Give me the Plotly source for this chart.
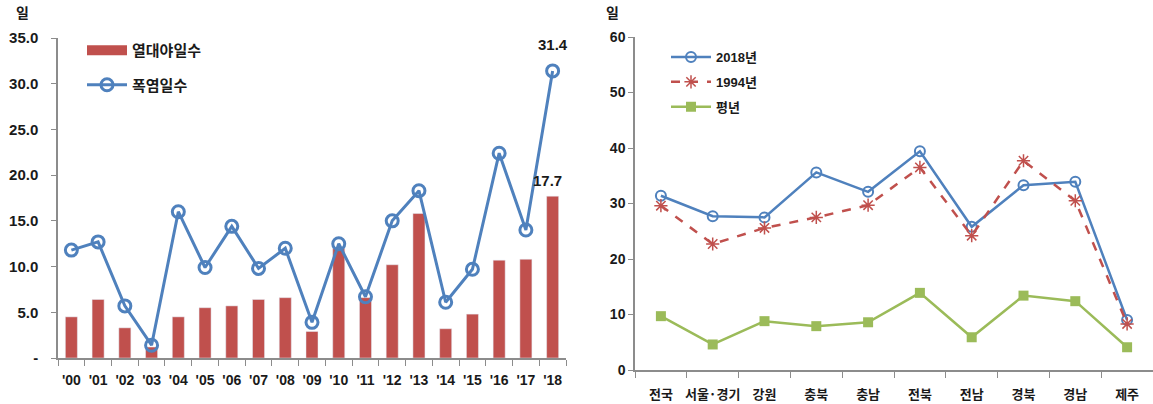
import plotly.graph_objects as go

years = ["'00","'01","'02","'03","'04","'05","'06","'07","'08","'09",
         "'10","'11","'12","'13","'14","'15","'16","'17","'18"]
tropical_nights = [4.5, 6.4, 3.3, 1.2, 4.5, 5.5, 5.7, 6.4, 6.6, 2.9,
                   12.0, 6.6, 10.2, 15.8, 3.2, 4.8, 10.7, 10.8, 17.7]
heatwave_days = [11.8, 12.7, 5.7, 1.4, 16.0, 9.9, 14.4, 9.8, 12.0, 3.9,
                 12.5, 6.7, 15.0, 18.3, 6.1, 9.7, 22.4, 14.0, 31.4]

regions = ["전국", "서울·경기", "강원", "충북", "충남", "전북", "전남", "경북", "경남", "제주"]
y2018 = [31.4, 27.7, 27.5, 35.6, 32.1, 39.4, 25.8, 33.3, 33.9, 9.0]
y1994 = [29.6, 22.7, 25.6, 27.5, 29.7, 36.5, 24.2, 37.7, 30.5, 8.3]
normal = [9.7, 4.6, 8.8, 7.9, 8.6, 13.9, 5.9, 13.4, 12.4, 4.1]

left_yticks = [0, 5, 10, 15, 20, 25, 30, 35]
left_yticklabels = ["-", "5.0", "10.0", "15.0", "20.0", "25.0", "30.0", "35.0"]
right_yticks = [0, 10, 20, 30, 40, 50, 60]

RED = "#C0504D"
BLUE = "#4F81BD"
GREEN = "#9BBB59"
AXIS = "#8C8C8C"
TXT = "#1a1a1a"
FONT = "Liberation Sans, Noto Sans CJK KR"
KFONT = "Noto Sans CJK KR, Liberation Sans"
NARROW = "Liberation Sans Narrow, Liberation Sans, Noto Sans CJK KR"

W, H = 1153, 404
fig = go.Figure()

fig.add_trace(go.Bar(
    x=years, y=tropical_nights, name="열대야일수", marker_color=RED,
    xaxis="x", yaxis="y", showlegend=False,
))
# legend entry for the bars (wide swatch like the reference)
fig.add_trace(go.Scatter(
    x=[years[0]], y=[None], name="열대야일수", mode="lines",
    line=dict(color=RED, width=12),
    xaxis="x", yaxis="y", legend="legend", legendgroup="a",
))
fig.add_trace(go.Scatter(
    x=years, y=heatwave_days, name="폭염일수", mode="lines+markers",
    line=dict(color=BLUE, width=3),
    marker=dict(symbol="circle-open", size=12, color=BLUE, line=dict(width=3)),
    xaxis="x", yaxis="y", legend="legend", legendgroup="b",
))

fig.add_trace(go.Scatter(
    x=regions, y=y2018, name="2018년", mode="lines+markers",
    line=dict(color=BLUE, width=2.5),
    marker=dict(symbol="circle-open", size=10, color=BLUE, line=dict(width=2)),
    xaxis="x2", yaxis="y2", legend="legend2", legendgroup="c",
))
fig.add_trace(go.Scatter(
    x=regions, y=y1994, name="1994년", mode="lines+markers",
    line=dict(color=RED, width=2.5, dash="dash"),
    marker=dict(symbol="asterisk-open", size=11, color=RED, line=dict(width=1.5, color=RED)),
    xaxis="x2", yaxis="y2", legend="legend2", legendgroup="d",
))
fig.add_trace(go.Scatter(
    x=regions, y=normal, name="평년", mode="lines+markers",
    line=dict(color=GREEN, width=2.5),
    marker=dict(symbol="square", size=10, color=GREEN),
    xaxis="x2", yaxis="y2", legend="legend2", legendgroup="e",
))

def px_x(p):
    return p / W

def px_y(p):
    return 1 - p / H

axis_common = dict(showline=True, linecolor=AXIS, linewidth=1.5, ticks="outside",
                   tickcolor=AXIS, showgrid=False, zeroline=False, fixedrange=True,
                   automargin=False)

fig.update_layout(
    width=W, height=H,
    margin=dict(l=0, r=0, t=0, b=0),
    paper_bgcolor="white", plot_bgcolor="white",
    barmode="overlay", bargap=0.55,
    showlegend=True,
    xaxis=dict(domain=[px_x(58), px_x(566)], anchor="y", tickson="boundaries",
               range=[-0.5, len(years) - 0.5],
               ticklen=6, tickangle=0, ticklabelstandoff=8,
               tickfont=dict(family=FONT, size=14, color=TXT, weight="bold"),
               **axis_common),
    yaxis=dict(domain=[px_y(358), px_y(38)], anchor="x", range=[0, 35],
               tickvals=left_yticks, ticktext=left_yticklabels, ticklen=5,
               ticklabelstandoff=10,
               tickfont=dict(family=FONT, size=15, color=TXT, weight="bold"),
               **axis_common),
    xaxis2=dict(domain=[px_x(635), 1.0], anchor="y2", tickson="boundaries",
                range=[-0.5, len(regions) - 0.5],
                ticklen=6, tickangle=0, ticklabelstandoff=12,
                tickfont=dict(family=KFONT, size=13, color=TXT, weight="bold"),
                **axis_common),
    yaxis2=dict(domain=[px_y(370), px_y(37)], anchor="x2", range=[0, 60],
                tickvals=right_yticks, ticklen=5,
                tickfont=dict(family=NARROW, size=14, color=TXT, weight="bold"),
                **axis_common),
    legend=dict(x=px_x(82), y=px_y(34), xanchor="left", yanchor="top",
                font=dict(family=KFONT, size=15, color=TXT, weight="bold"),
                bgcolor="rgba(0,0,0,0)", tracegroupgap=12, traceorder="grouped",
                itemwidth=40),
    legend2=dict(x=px_x(666), y=px_y(42), xanchor="left", yanchor="top",
                 font=dict(family=NARROW, size=13, color=TXT, weight="bold"),
                 bgcolor="rgba(0,0,0,0)", tracegroupgap=5, traceorder="grouped",
                 itemwidth=40),
    annotations=[
        dict(text="일", x=px_x(22), y=px_y(12), xref="paper", yref="paper",
             xanchor="center", yanchor="middle", showarrow=False,
             font=dict(family=KFONT, size=14, color=TXT, weight="bold")),
        dict(text="일", x=px_x(613), y=px_y(12), xref="paper", yref="paper",
             xanchor="center", yanchor="middle", showarrow=False,
             font=dict(family=KFONT, size=14, color=TXT, weight="bold")),
        dict(text="31.4", x=years[-1], y=heatwave_days[-1], xref="x", yref="y",
             showarrow=False, yshift=26,
             font=dict(family=FONT, size=15, color=TXT, weight="bold")),
        dict(text="17.7", x=years[-1], y=tropical_nights[-1], xref="x", yref="y",
             showarrow=False, yshift=16, xshift=-5,
             font=dict(family=FONT, size=15, color=TXT, weight="bold")),
    ],
)

fig.write_html("out.html")
